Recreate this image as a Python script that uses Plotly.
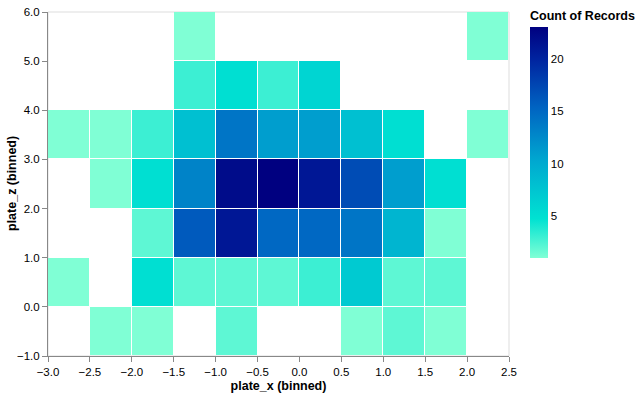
import plotly.graph_objects as go

# bin edges
x_edges = [-3.0, -2.5, -2.0, -1.5, -1.0, -0.5, 0.0, 0.5, 1.0, 1.5, 2.0, 2.5]
y_edges = [-1.0, 0.0, 1.0, 2.0, 3.0, 4.0, 5.0, 6.0]

N = None
# counts per row (bottom row first), columns left -> right
row_m1 = [N, 1, 1, N, 2, N, N, 1, 2, 1, N]
row_0 = [1, N, 5, 2, 2, 2, 3, 7, 2, 2, N]
row_1 = [N, N, 2, 16, 21, 15, 15, 14, 9, 1, N]
row_2 = [N, 1, 5, 13, 22, 23, 21, 17, 11, 5, N]
row_3 = [1, 1, 3, 8, 14, 11, 11, 8, 5, N, 1]
row_4 = [N, N, N, 3, 5, 3, 6, N, N, N, N]
row_5 = [N, N, N, 1, N, N, N, N, N, N, 1]

z = [row_m1, row_0, row_1, row_2, row_3, row_4, row_5]

x_ticks = [-3.0, -2.5, -2.0, -1.5, -1.0, -0.5, 0.0, 0.5, 1.0, 1.5, 2.0, 2.5]
y_ticks = [-1.0, 0.0, 1.0, 2.0, 3.0, 4.0, 5.0, 6.0]
cbar_ticks = [5, 10, 15, 20]

colorscale = [
    [0.0, "#80ffd5"],
    [0.17, "#00e2d2"],
    [0.42, "#00a8d0"],
    [0.65, "#0064c2"],
    [0.86, "#0024a0"],
    [1.0, "#000080"],
]

FONT = "Liberation Sans, Arial, sans-serif"

fig = go.Figure(
    go.Heatmap(
        x=x_edges,
        y=y_edges,
        z=z,
        zmin=1,
        zmax=23,
        colorscale=colorscale,
        xgap=1,
        ygap=1,
        hoverongaps=False,
        colorbar=dict(
            title=dict(text="<b>Count of Records</b>", side="top",
                       font=dict(size=12.5, color="#000", family=FONT)),
            tickvals=cbar_ticks,
            ticks="",
            tickfont=dict(size=11.5, color="#000", family=FONT),
            thickness=18,
            lenmode="pixels",
            len=250,
            x=1.0456,
            xanchor="left",
            y=1.0116,
            yanchor="top",
            xpad=0,
            ypad=0,
            outlinewidth=0,
        ),
    )
)

fig.add_shape(type="rect", xref="paper", yref="paper", x0=0, x1=1, y0=0, y1=1,
              line=dict(color="#dddddd", width=1), layer="below")

fig.add_annotation(text="<b>plate_z (binned)</b>", xref="paper", yref="paper",
                   x=-36 / 461, y=0.5, textangle=-90, showarrow=False,
                   font=dict(size=12.5, color="#000"), xanchor="center", yanchor="middle")

fig.update_layout(
    width=640,
    height=400,
    margin=dict(l=48, r=131, t=12, b=44, autoexpand=False),
    paper_bgcolor="white",
    plot_bgcolor="white",
    font=dict(family=FONT, size=11.5, color="#000"),
    xaxis=dict(
        range=[-3.0, 2.5],
        tickvals=x_ticks,
        tickformat=".1f",
        showgrid=False,
        zeroline=False,
        showline=True,
        linecolor="#888",
        linewidth=1,
        ticks="outside",
        ticklen=5,
        tickcolor="#888",
        automargin=False,
        tickfont=dict(size=11.5, color="#000"),
        title=dict(text="<b>plate_x (binned)</b>", font=dict(size=12.5, color="#000"), standoff=4),
    ),
    yaxis=dict(
        range=[-1.0, 6.0],
        tickvals=y_ticks,
        tickformat=".1f",
        showgrid=False,
        zeroline=False,
        showline=True,
        linecolor="#888",
        linewidth=1,
        ticks="outside",
        ticklen=5,
        tickcolor="#888",
        automargin=False,
        tickfont=dict(size=11.5, color="#000"),
    ),
)

fig.write_html("out.html", config={"displayModeBar": False},
               post_script="document.body.style.margin='0px';")
